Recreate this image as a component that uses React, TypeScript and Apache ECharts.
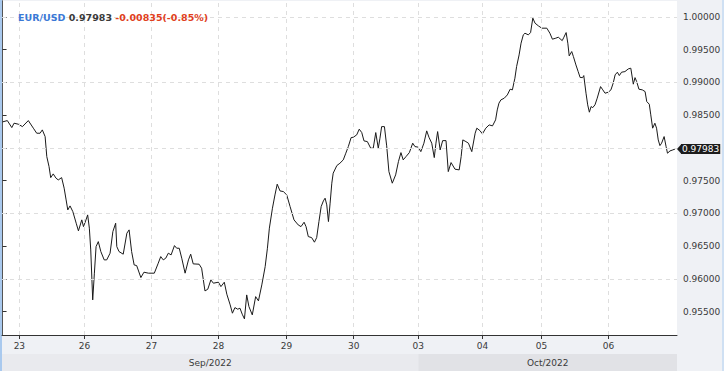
import React, { useEffect, useRef } from "react";
import * as echarts from "echarts";

const symbolName = "EUR/USD";
const lastPrice = 0.97983;
const change = -0.00835;
const changePct = -0.85;

const dayLabels = ["23", "26", "27", "28", "29", "30", "03", "04", "05", "06"];
const dayStarts = [6.0, 29.3, 53.2, 77.1, 101.4, 125.4, 148.5, 171.4, 192.5, 216.4];
const monthLabels = ["Sep/2022", "Oct/2022"];
const monthStartDay = [0, 6];
const yTicks = [0.955, 0.96, 0.965, 0.97, 0.975, 0.98, 0.985, 0.99, 0.995, 1.0];
const xMin = -0.2;
const xMax = 240.9;
const yMin = 0.95143;
const yMax = 1.00243;

const hours = [
  0, 1.7, 3.3, 4.1, 5.6, 7.1, 9.2, 11, 12.2, 13.4,
  14.2, 15.2, 15.8, 16.6, 17.2, 18.1, 19.1, 19.9, 21.1, 22,
  22.7, 23.3, 24.1, 25.1, 26.3, 27.1, 28.3, 28.9, 29.8, 30.4,
  31, 31.5, 32.2, 32.8, 33.4, 34.2, 35.1, 36.3, 37.2, 38.4,
  39.4, 40.4, 40.8, 41.6, 43.1, 44.4, 45.2, 46.1, 47, 47.9,
  49.4, 50.5, 52.1, 54.2, 55.6, 56.5, 57.4, 58.3, 59.2, 60.2,
  61.4, 62.2, 63.1, 64, 65.2, 66.4, 67.2, 68.1, 70.2, 71.1,
  72.3, 73.3, 74.4, 75.3, 77.1, 78, 79.2, 80.1, 81.3, 82.1,
  83, 84, 84.8, 85.6, 86.4, 87.2, 88, 89.2, 90.4, 91.4,
  92.6, 93.8, 94.6, 95.3, 96.4, 97.3, 98.1, 99.1, 100.3, 101.5,
  102.7, 104.1, 105.6, 106.6, 107.7, 108.4, 109.2, 110.4, 111.4, 112.2,
  113, 113.8, 114.6, 115.2, 115.8, 116.4, 117, 117.6, 118.1, 119.4,
  120.5, 121.7, 122.6, 123.5, 124.5, 125.3, 126.5, 127.4, 128.3, 129.1,
  130.3, 131.5, 132.4, 133.3, 134.2, 134.8, 135.4, 136.4, 137.2, 138,
  139.2, 140.4, 141.4, 142.3, 143.1, 144.1, 145.3, 146.5, 147.3, 148.5,
  149.4, 150.5, 151.5, 152.3, 153.3, 154.2, 154.8, 155.4, 156.3, 157.2,
  158.4, 159.2, 160.2, 161.6, 163.1, 163.8, 164.4, 165.5, 166.4, 167.6,
  168.8, 169.4, 170.5, 171.4, 172.6, 173.8, 175, 176.1, 176.7, 177.3,
  178, 179.2, 180.3, 181.3, 182.1, 183, 183.6, 184.5, 185.2, 186,
  186.6, 187.8, 188.6, 189.4, 190.2, 191.4, 192.6, 194.4, 195.5, 196.4,
  197.6, 198.5, 199.9, 200.5, 201.3, 201.9, 202.4, 203.3, 203.9, 204.8,
  205.6, 206.3, 207.2, 207.6, 208.4, 209, 209.6, 210.2, 210.8, 211.6,
  212.4, 213.6, 214.4, 215.2, 216.4, 217.3, 218.1, 218.8, 219.6, 220.3,
  221.1, 222.3, 223.5, 224.4, 225.3, 225.9, 226.5, 227.3, 228.5, 229.5,
  230.1, 231, 231.5, 232.2, 233, 233.6, 234.2, 234.8, 235.4, 236.3,
  237, 237.5, 238.4, 239.4, 240.2,
];

const prices = [
  0.98397, 0.98417, 0.9831, 0.98377, 0.98362, 0.98325, 0.98417, 0.98301, 0.98224, 0.98224,
  0.98275, 0.98173, 0.97867, 0.97714, 0.97546, 0.97603, 0.97537, 0.97511, 0.97546, 0.97385,
  0.97206, 0.97053, 0.97114, 0.97027, 0.9685, 0.96733, 0.96901, 0.96798, 0.96901, 0.96977,
  0.96774, 0.96442, 0.95679, 0.96087, 0.96493, 0.96569, 0.96417, 0.9629, 0.9629, 0.96392,
  0.96722, 0.9685, 0.96493, 0.96417, 0.96377, 0.96697, 0.96748, 0.96417, 0.96213, 0.96203,
  0.9602, 0.96102, 0.96087, 0.96087, 0.96239, 0.9634, 0.9629, 0.96316, 0.96392, 0.96366,
  0.96508, 0.96468, 0.96468, 0.96316, 0.96087, 0.9629, 0.96377, 0.96229, 0.96224, 0.96163,
  0.95816, 0.95842, 0.95984, 0.95934, 0.95949, 0.95882, 0.95949, 0.95766, 0.95603, 0.95476,
  0.95561, 0.95537, 0.95552, 0.95461, 0.95389, 0.95755, 0.95577, 0.9545, 0.95729, 0.95664,
  0.95908, 0.96187, 0.96468, 0.96774, 0.97079, 0.97282, 0.97446, 0.97343, 0.97333, 0.97282,
  0.97104, 0.96901, 0.96824, 0.96798, 0.96865, 0.96798, 0.96646, 0.9663, 0.9656, 0.9663,
  0.96875, 0.97104, 0.97191, 0.97232, 0.9713, 0.96875, 0.97156, 0.97461, 0.97614, 0.9773,
  0.97766, 0.97817, 0.97919, 0.9802, 0.98157, 0.98163, 0.98199, 0.98286, 0.98234, 0.98107,
  0.98096, 0.97995, 0.97995, 0.98234, 0.97995, 0.98148, 0.98325, 0.98325, 0.98031, 0.97638,
  0.97461, 0.97588, 0.97791, 0.97928, 0.97817, 0.97867, 0.97928, 0.98072, 0.9802, 0.98011,
  0.97943, 0.98072, 0.9826, 0.98163, 0.98072, 0.97852, 0.98072, 0.98249, 0.97969, 0.98111,
  0.98111, 0.97638, 0.97776, 0.97675, 0.97664, 0.97867, 0.98122, 0.98096, 0.98072, 0.97943,
  0.98224, 0.98301, 0.98264, 0.98214, 0.98301, 0.98351, 0.98336, 0.98428, 0.9858, 0.98683,
  0.98733, 0.98759, 0.98809, 0.98896, 0.98886, 0.99064, 0.99241, 0.9942, 0.99599, 0.99726,
  0.99751, 0.99726, 0.99761, 0.99981, 0.99904, 0.99863, 0.99828, 0.99828, 0.99751, 0.9966,
  0.99675, 0.9969, 0.99638, 0.9969, 0.99761, 0.99599, 0.99405, 0.99471, 0.99394, 0.99267,
  0.99165, 0.99075, 0.99073, 0.99104, 0.98835, 0.98657, 0.98545, 0.98631, 0.98615, 0.98657,
  0.98759, 0.98936, 0.98886, 0.98835, 0.98851, 0.98886, 0.98988, 0.99115, 0.99156, 0.99104,
  0.99156, 0.99165, 0.99206, 0.99217, 0.98973, 0.99073, 0.99012, 0.98896, 0.98886, 0.9886,
  0.98707, 0.98667, 0.98515, 0.98301, 0.98377, 0.98301, 0.98122, 0.98035, 0.98072, 0.98173,
  0.9802, 0.97919, 0.97954, 0.97969, 0.97983,
];

const FONT = "'DejaVu Sans', Verdana, sans-serif";
const W = 724;
const H = 371;
const GRID = { left: 2, right: 47, top: 1, bottom: 36 };

export default function App() {
  const ref = useRef<HTMLDivElement>(null);

  useEffect(() => {
    if (!ref.current) return;
    const chart = echarts.init(ref.current, null, { renderer: "svg" });
    const data = hours.map((h, i) => [h, prices[i]]);
    const gridColor = "#dedede";

    const option: any = {
      animation: false,
      backgroundColor: "#eff1f5",
      textStyle: { fontFamily: FONT },
      title: {
        left: 13,
        top: 7,
        text:
          "{a|" + symbolName + "} {b|" + lastPrice.toFixed(5) + "} {c|" +
          change.toFixed(5) + "(" + changePct.toFixed(2) + "%)}",
        textStyle: {
          fontSize: 9.5,
          rich: {
            a: { color: "#3a78d6", fontWeight: "bold", fontSize: 9.5, fontFamily: FONT },
            b: { color: "#3a3a3a", fontWeight: "bold", fontSize: 9.5, fontFamily: FONT },
            c: { color: "#e0401c", fontWeight: "bold", fontSize: 9.5, fontFamily: FONT },
          },
        },
      },
      grid: {
        ...GRID,
        show: true,
        backgroundColor: "#ffffff",
        borderWidth: 0,
      },
      xAxis: {
        type: "value",
        min: xMin,
        max: xMax,
        position: "bottom",
        splitLine: { show: false },
        axisLine: { show: true, onZero: false, lineStyle: { color: "#333", width: 1 } },
        axisTick: {
          show: true,
          length: 4,
          customValues: dayStarts,
          lineStyle: { color: "#333" },
        },
        axisLabel: {
          show: true,
          customValues: dayStarts,
          margin: 6,
          fontSize: 9,
          color: "#3a3a3a",
          fontFamily: FONT,
          formatter: (v: number) => {
            let best = 0;
            for (let i = 0; i < dayStarts.length; i++) {
              if (Math.abs(dayStarts[i] - v) < Math.abs(dayStarts[best] - v)) best = i;
            }
            return dayLabels[best];
          },
        },
      },
      yAxis: [
        {
          type: "value",
          min: yMin,
          max: yMax,
          position: "right",
          splitLine: { show: false },
          axisLine: { show: true, lineStyle: { color: "#333", width: 1 } },
          axisTick: {
            show: true,
            length: 4,
            customValues: yTicks,
            lineStyle: { color: "#333" },
          },
          axisLabel: {
            show: true,
            customValues: yTicks,
            margin: 6,
            fontSize: 9,
            color: "#3a3a3a",
            fontFamily: FONT,
            formatter: (v: number) => v.toFixed(5),
          },
        },
        {
          type: "value",
          min: yMin,
          max: yMax,
          position: "left",
          splitLine: { show: false },
          axisLine: { show: true, lineStyle: { color: "#555", width: 1 } },
          axisTick: { show: false },
          axisLabel: { show: false },
        },
      ],
      series: [
        {
          type: "line",
          name: "grid",
          data: [data[0]],
          showSymbol: false,
          lineStyle: { opacity: 0 },
          silent: true,
          z: 1,
          markLine: {
            silent: true,
            symbol: ["none", "none"],
            label: { show: false },
            emphasis: { disabled: true },
            lineStyle: { color: gridColor, type: [4, 4], width: 1 },
            data: [
              ...yTicks.map((v) => ({ yAxis: v })),
              ...dayStarts.map((d) => ({ xAxis: d })),
            ],
          },
        },
        {
          type: "line",
          name: symbolName,
          data,
          showSymbol: false,
          symbol: "none",
          lineStyle: { color: "#1a1a1a", width: 1 },
          silent: true,
          z: 3,
          markPoint: {
            silent: true,
            symbol: "path://M0,5 L5,0 L5,10 Z",
            symbolSize: [4, 9],
            symbolOffset: [2, 0],
            itemStyle: { color: "#1c1c1c" },
            label: {
              show: true,
              position: "right",
              distance: 0,
              formatter: () => lastPrice.toFixed(5),
              backgroundColor: "#1c1c1c",
              color: "#ffffff",
              fontSize: 9,
              fontFamily: FONT,
              lineHeight: 10,
              padding: [0, 1, 0, 1],
            },
            data: [{ coord: [xMax, lastPrice], value: lastPrice }],
          },
        },
      ],
    };

    chart.setOption(option);

    const left = GRID.left;
    const right = W - GRID.right;
    const splitX = chart.convertToPixel({ xAxisIndex: 0 }, dayStarts[monthStartDay[1]]) as number;
    const bandTop = 354;
    const bandH = H - bandTop;
    const bounds = [
      [left, splitX],
      [splitX, right],
    ];
    const bandColors = ["#e9eaee", "#e1e2e6"];

    chart.setOption({
      graphic: [
        ...bounds.map((b, i) => ({
          type: "rect",
          silent: true,
          shape: { x: b[0], y: bandTop, width: b[1] - b[0], height: bandH },
          style: { fill: bandColors[i] },
        })),
        ...bounds.map((b, i) => ({
          type: "text",
          silent: true,
          x: (b[0] + b[1]) / 2,
          y: bandTop + bandH / 2,
          style: {
            text: monthLabels[i],
            fill: "#3a3a3a",
            font: "9px " + FONT,
            align: "center",
            verticalAlign: "middle",
          },
        })),
        {
          type: "rect",
          silent: true,
          shape: { x: 0, y: 0, width: 2, height: H },
          style: { fill: "#a9c9ee" },
        },
        {
          type: "rect",
          silent: true,
          shape: { x: W - 2, y: 0, width: 2, height: H },
          style: { fill: "#cfe0f3" },
        },
      ],
    });

    return () => chart.dispose();
  }, []);

  return (
    <div
      ref={ref}
      style={{ position: "absolute", left: 0, top: 0, width: W, height: H }}
    />
  );
}
